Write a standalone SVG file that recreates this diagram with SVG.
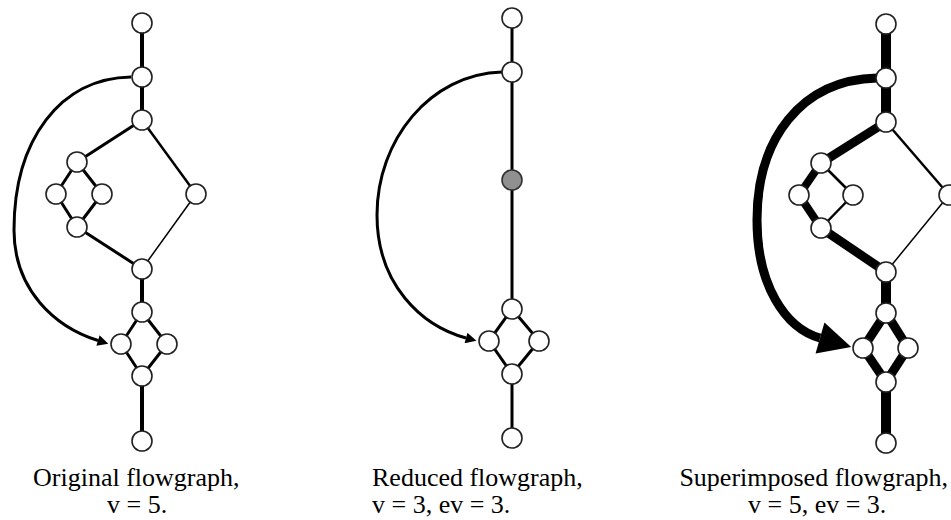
<svg xmlns="http://www.w3.org/2000/svg" width="951" height="520" viewBox="0 0 951 520">
<style>
.e{stroke:#000;fill:none;stroke-linecap:butt}
.n{fill:#fff;stroke:#222;stroke-width:1.6}
.g{fill:#909090;stroke:#333;stroke-width:1.6}
.t{font-family:"Liberation Serif","Times New Roman",serif;font-size:26px;fill:#000}
</style>
<defs>
<marker id="ah" viewBox="0 0 10 10" refX="0" refY="5" markerUnits="strokeWidth" markerWidth="3.8" markerHeight="3.6" orient="auto">
<path d="M0,0 L10,5 L0,10 z" fill="#000"/>
</marker>
</defs>
<rect width="951" height="520" fill="#fff"/>
<g id="connectors">
<!-- graph 1 -->
<line class="e" x1="142" y1="23" x2="142" y2="77" stroke-width="4"/>
<line class="e" x1="142" y1="77" x2="142" y2="120" stroke-width="4"/>
<line class="e" x1="142" y1="120" x2="77" y2="162" stroke-width="3"/>
<line class="e" x1="142" y1="120" x2="196" y2="194" stroke-width="2.5"/>
<line class="e" x1="77" y1="162" x2="56" y2="194" stroke-width="3"/>
<line class="e" x1="77" y1="162" x2="102" y2="194" stroke-width="3"/>
<line class="e" x1="56" y1="194" x2="77" y2="227" stroke-width="3"/>
<line class="e" x1="102" y1="194" x2="77" y2="227" stroke-width="3"/>
<line class="e" x1="77" y1="227" x2="142" y2="269" stroke-width="3"/>
<line class="e" x1="196" y1="194" x2="142" y2="269" stroke-width="1.5"/>
<line class="e" x1="142" y1="269" x2="142" y2="312" stroke-width="4"/>
<line class="e" x1="142" y1="312" x2="121" y2="344" stroke-width="3"/>
<line class="e" x1="142" y1="312" x2="167" y2="344" stroke-width="3"/>
<line class="e" x1="121" y1="344" x2="142" y2="376" stroke-width="3"/>
<line class="e" x1="167" y1="344" x2="142" y2="376" stroke-width="3"/>
<line class="e" x1="142" y1="376" x2="142" y2="441" stroke-width="4"/>
<path class="e" d="M131,77 C60,78 14,140 14,230 C14,290 55,327 98,340.5" stroke-width="3" marker-end="url(#ah)"/>
<!-- graph 2 -->
<line class="e" x1="512" y1="18" x2="512" y2="72" stroke-width="3"/>
<line class="e" x1="512" y1="72" x2="512" y2="180" stroke-width="3"/>
<line class="e" x1="512" y1="180" x2="512" y2="309" stroke-width="3"/>
<line class="e" x1="512" y1="309" x2="489" y2="341" stroke-width="3"/>
<line class="e" x1="512" y1="309" x2="539" y2="341" stroke-width="3"/>
<line class="e" x1="489" y1="341" x2="512" y2="374" stroke-width="3"/>
<line class="e" x1="539" y1="341" x2="512" y2="374" stroke-width="3"/>
<line class="e" x1="512" y1="374" x2="512" y2="438" stroke-width="3"/>
<path class="e" d="M502,72 C430,74 377,140 377,215 C377,285 422,326 466,338" stroke-width="3" marker-end="url(#ah)"/>
<!-- graph 3 -->
<line class="e" x1="886" y1="24" x2="886" y2="78" stroke-width="10"/>
<line class="e" x1="886" y1="78" x2="886" y2="122" stroke-width="10"/>
<line class="e" x1="886" y1="122" x2="821" y2="163" stroke-width="9"/>
<line class="e" x1="886" y1="122" x2="949" y2="195" stroke-width="2.5"/>
<line class="e" x1="821" y1="163" x2="799" y2="195" stroke-width="8"/>
<line class="e" x1="799" y1="195" x2="821" y2="228" stroke-width="8"/>
<line class="e" x1="821" y1="163" x2="853" y2="195" stroke-width="2.5"/>
<line class="e" x1="853" y1="195" x2="821" y2="228" stroke-width="2.5"/>
<line class="e" x1="821" y1="228" x2="886" y2="272" stroke-width="9"/>
<line class="e" x1="949" y1="195" x2="886" y2="272" stroke-width="1.5"/>
<line class="e" x1="886" y1="272" x2="886" y2="313" stroke-width="10"/>
<line class="e" x1="886" y1="313" x2="863" y2="348" stroke-width="9"/>
<line class="e" x1="886" y1="313" x2="908" y2="348" stroke-width="9"/>
<line class="e" x1="863" y1="348" x2="886" y2="382" stroke-width="9"/>
<line class="e" x1="908" y1="348" x2="886" y2="382" stroke-width="9"/>
<line class="e" x1="886" y1="382" x2="886" y2="443" stroke-width="10"/>
<path class="e" d="M877,78 C800,80 757,140 757,220 C757,285 785,328 820,338" stroke-width="9" marker-end="url(#ah)"/>
</g>
<g id="g1-a"><circle class="n" cx="142" cy="23" r="10"/></g>
<g id="g1-b"><circle class="n" cx="142" cy="77" r="10"/></g>
<g id="g1-c"><circle class="n" cx="142" cy="120" r="10"/></g>
<g id="g1-d"><circle class="n" cx="77" cy="162" r="10"/></g>
<g id="g1-e"><circle class="n" cx="56" cy="194" r="10"/></g>
<g id="g1-f"><circle class="n" cx="102" cy="194" r="10"/></g>
<g id="g1-g"><circle class="n" cx="77" cy="227" r="10"/></g>
<g id="g1-h"><circle class="n" cx="196" cy="194" r="10"/></g>
<g id="g1-i"><circle class="n" cx="142" cy="269" r="10"/></g>
<g id="g1-j"><circle class="n" cx="142" cy="312" r="10"/></g>
<g id="g1-k"><circle class="n" cx="121" cy="344" r="10"/></g>
<g id="g1-l"><circle class="n" cx="167" cy="344" r="10"/></g>
<g id="g1-m"><circle class="n" cx="142" cy="376" r="10"/></g>
<g id="g1-n"><circle class="n" cx="142" cy="441" r="10"/></g>
<g id="g2-a"><circle class="n" cx="512" cy="18" r="10"/></g>
<g id="g2-b"><circle class="n" cx="512" cy="72" r="10"/></g>
<g id="g2-reduced"><circle class="g" cx="512" cy="180" r="10"/></g>
<g id="g2-j"><circle class="n" cx="512" cy="309" r="10"/></g>
<g id="g2-k"><circle class="n" cx="489" cy="341" r="10"/></g>
<g id="g2-l"><circle class="n" cx="539" cy="341" r="10"/></g>
<g id="g2-m"><circle class="n" cx="512" cy="374" r="10"/></g>
<g id="g2-n"><circle class="n" cx="512" cy="438" r="10"/></g>
<g id="g3-a"><circle class="n" cx="886" cy="24" r="10"/></g>
<g id="g3-b"><circle class="n" cx="886" cy="78" r="10"/></g>
<g id="g3-c"><circle class="n" cx="886" cy="122" r="10"/></g>
<g id="g3-d"><circle class="n" cx="821" cy="163" r="10"/></g>
<g id="g3-e"><circle class="n" cx="799" cy="195" r="10"/></g>
<g id="g3-f"><circle class="n" cx="853" cy="195" r="10"/></g>
<g id="g3-g"><circle class="n" cx="821" cy="228" r="10"/></g>
<g id="g3-h"><circle class="n" cx="949" cy="195" r="10"/></g>
<g id="g3-i"><circle class="n" cx="886" cy="272" r="10"/></g>
<g id="g3-j"><circle class="n" cx="886" cy="313" r="10"/></g>
<g id="g3-k"><circle class="n" cx="863" cy="348" r="10"/></g>
<g id="g3-l"><circle class="n" cx="908" cy="348" r="10"/></g>
<g id="g3-m"><circle class="n" cx="886" cy="382" r="10"/></g>
<g id="g3-n"><circle class="n" cx="886" cy="443" r="10"/></g>
<g id="captions">
<text class="t" x="33" y="486">Original flowgraph,</text>
<text class="t" x="107" y="513">v = 5.</text>
<text class="t" x="372" y="486">Reduced flowgraph,</text>
<text class="t" x="372" y="513">v = 3, ev = 3.</text>
<text class="t" x="948" y="486" text-anchor="end">Superimposed flowgraph,</text>
<text class="t" x="748" y="513">v = 5, ev = 3.</text>
</g>
</svg>
